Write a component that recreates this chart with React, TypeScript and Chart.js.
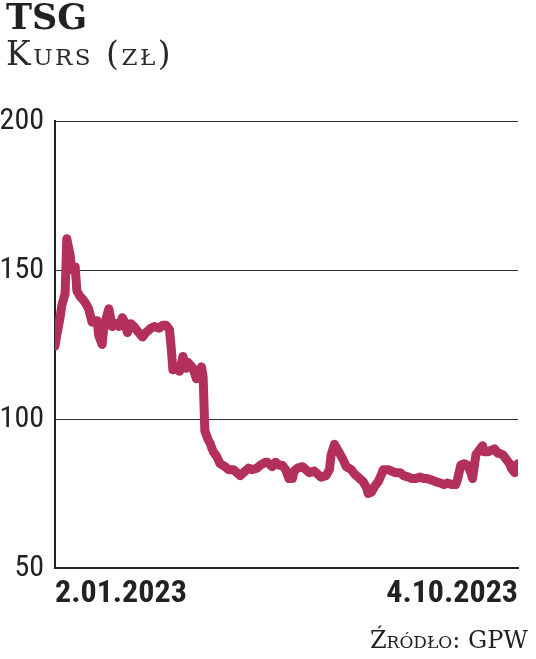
import React, { useEffect, useRef } from "react";
import { Chart, registerables } from "chart.js";

Chart.register(...registerables);

const titleText = "TSG";
const subtitleText = "Kurs (zł)";
const sourceText = "Źródło: GPW";
const xTickLabels = ["2.01.2023", "4.10.2023"];
const xTickDays = [0, 275];
const yTickValues = [50, 100, 150, 200];

// days since 2.01.2023
const dayOffsets = [
  0, 1, 3, 4, 5, 6, 7, 9, 10, 11, 12, 13, 15, 16, 18, 20, 22, 23, 25, 26,
  28, 29, 31, 32, 34, 36, 38, 40, 41, 43, 45, 47, 49, 52, 54, 57, 59, 62, 64, 66,
  68, 69, 70, 72, 74, 76, 78, 79, 82, 84, 85, 87, 88, 89, 91, 92, 94, 96, 98, 101,
  103, 106, 108, 110, 113, 115, 117, 120, 122, 125, 126, 129, 131, 133, 135, 137, 139, 141, 142, 144,
  147, 149, 151, 154, 156, 158, 161, 163, 164, 166, 167, 169, 171, 173, 176, 178, 180, 183, 185, 186,
  188, 190, 192, 194, 195, 198, 200, 202, 205, 207, 210, 212, 214, 217, 219, 221, 224, 226, 229, 231,
  233, 236, 238, 239, 241, 243, 245, 247, 248, 250, 252, 254, 255, 257, 259, 261, 263, 264, 266, 268,
  270, 271, 273, 274, 275,
];

// closing price, zł
const prices = [
  124.5, 128, 134, 138, 140, 142, 160.5, 155, 150, 151, 151, 143, 141, 140.5, 139, 137, 132.5, 133, 133, 128,
  125, 131, 135, 137, 131, 132, 131, 134, 133, 129, 132, 131, 129.5, 127.5, 129, 130.5, 131, 130.5, 131.5, 131.5,
  130, 124, 116.5, 117, 116, 121, 117, 119, 117, 113.5, 114.5, 117.5, 114, 96, 93, 92, 89, 87.5, 85, 84,
  83, 83, 82, 81, 82.5, 83.5, 83, 83.5, 84.5, 85.5, 85.5, 84, 85.5, 84.5, 84.5, 83, 80, 80, 82.5, 83.5,
  84, 83, 82, 82.5, 81.5, 80.5, 81, 83, 88, 91.5, 90.5, 88.5, 86.5, 84, 83, 81.5, 80.5, 79, 77, 75,
  75.5, 77.5, 79, 81.5, 83, 83, 82.5, 82, 82, 81, 80.5, 80, 80, 80.5, 80, 80, 79.5, 79, 78.5, 78,
  78.5, 78, 78, 79.5, 84.5, 85, 84.5, 82, 80, 88, 89.5, 91, 89, 89, 89.5, 90, 88.5, 88.5, 88, 86.5,
  85, 83.5, 82, 84.5, 85,
];

const lineColor = "#b3305a";
const tickFont = "'Roboto Condensed', 'Liberation Sans Narrow', 'DejaVu Sans Condensed', sans-serif";
const serifFont = "'DejaVu Serif', 'Liberation Serif', serif";

export default function App() {
  const canvasRef = useRef<HTMLCanvasElement | null>(null);

  useEffect(() => {
    const canvas = canvasRef.current;
    if (!canvas) return;
    const chart = new Chart(canvas, {
      type: "line",
      data: {
        datasets: [
          {
            data: dayOffsets.map((d, i) => ({ x: d, y: prices[i] })),
            borderColor: lineColor,
            backgroundColor: lineColor,
            borderWidth: 9,
            borderJoinStyle: "round",
            borderCapStyle: "round",
            pointRadius: 0,
            tension: 0,
            fill: false,
          },
        ],
      },
      options: {
        animation: false,
        responsive: false,
        maintainAspectRatio: false,
        layout: { padding: { left: 0, right: 18, top: 121, bottom: 51 } },
        plugins: { legend: { display: false }, tooltip: { enabled: false }, title: { display: false } },
        scales: {
          x: {
            type: "linear",
            min: xTickDays[0],
            max: xTickDays[1],
            afterBuildTicks: (scale: any) => {
              scale.ticks = xTickDays.map((v) => ({ value: v }));
            },
            afterFit: (scale: any) => {
              scale.height = 40;
            },
            grid: { display: false, drawTicks: false },
            border: { display: true, color: "#222", width: 2 },
            ticks: {
              autoSkip: false,
              maxRotation: 0,
              align: "inner",
              padding: 7,
              color: "#222",
              font: { family: tickFont, size: 32, weight: "bold" },
              callback: (_v: any, i: number) => xTickLabels[i],
            },
          },
          y: {
            min: 50,
            max: 200,
            afterBuildTicks: (scale: any) => {
              scale.ticks = yTickValues.map((v) => ({ value: v }));
            },
            afterFit: (scale: any) => {
              scale.width = 55;
            },
            grid: { color: "#333", lineWidth: 1, drawTicks: false },
            border: { display: true, color: "#222", width: 2 },
            ticks: {
              padding: 11,
              color: "#222",
              font: { family: tickFont, size: 30 },
            },
          },
        },
      },
    });
    return () => chart.destroy();
  }, []);

  return (
    <div style={{ position: "absolute", left: 0, top: 0, width: 536, height: 659, background: "#fff" }}>
      <canvas ref={canvasRef} width={536} height={659} style={{ position: "absolute", left: 0, top: 0 }} />
      <div
        style={{
          position: "absolute",
          left: 6,
          top: -4,
          fontFamily: serifFont,
          fontWeight: "bold",
          fontSize: 35,
          color: "#222",
          lineHeight: "42px",
        }}
      >
        {titleText}
      </div>
      <div
        style={{
          position: "absolute",
          left: 6,
          top: 34,
          fontFamily: serifFont,
          fontVariant: "small-caps",
          fontSize: 33,
          letterSpacing: 2.5,
          color: "#2a2a2a",
          lineHeight: "40px",
        }}
      >
        {subtitleText}
      </div>
      <div
        style={{
          position: "absolute",
          right: 8,
          top: 625,
          fontFamily: serifFont,
          fontVariant: "small-caps",
          fontSize: 24,
          color: "#222",
          lineHeight: "30px",
        }}
      >
        {sourceText}
      </div>
    </div>
  );
}
